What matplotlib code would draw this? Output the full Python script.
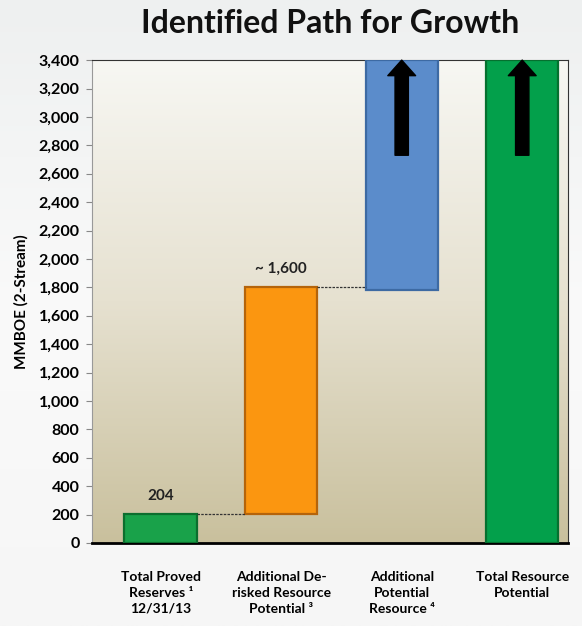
import matplotlib
matplotlib.use("Agg")
import matplotlib.pyplot as plt
import numpy as np
from matplotlib.colors import LinearSegmentedColormap

plt.rcParams['font.family'] = ['Lato', 'DejaVu Sans']
plt.rcParams['font.weight'] = 'bold'

# waterfall data (MMBOE)
categories = ["Total Proved\nReserves \u00b9\n12/31/13",
              "Additional De-\nrisked Resource\nPotential \u00b3",
              "Additional\nPotential\nResource \u2074",
              "Total Resource\nPotential"]
bar_bottoms = [0, 204, 1780, 0]
bar_tops = [204, 1800, 3400, 3400]
bar_labels = ["204", "~ 1,600", None, None]
bar_colors = ["#19a24a", "#fb9610", "#5b8ccb", "#03a04b"]
edge_colors = ["#0c6e2e", "#b5640a", "#3d6aa3", "#05702f"]
arrow_from = 2730
y_ticks = np.arange(0, 3401, 200)

fig = plt.figure(figsize=(5.82, 6.26), dpi=100)

# light page background gradient
bg = fig.add_axes([0, 0, 1, 1], zorder=-10)
bg.imshow(np.linspace(0, 1, 256).reshape(-1, 1), aspect='auto',
          cmap=LinearSegmentedColormap.from_list("pg", ["#eef0f0", "#fafafa", "#f6f6f6"]),
          extent=[0, 1, 0, 1])
bg.axis('off')

ax = fig.add_axes([0.158, 0.1326, 0.818, 0.7714])
xlim = (-0.57, 3.38)
ylim = (0, 3400)

# plot-area gradient: pale at top, tan at bottom
grad = np.linspace(0, 1, 256).reshape(-1, 1)
cmap = LinearSegmentedColormap.from_list("tan", ["#f7f7f3", "#e6e1d0", "#c9c09d"])
ax.imshow(grad, aspect='auto', cmap=cmap, extent=[xlim[0], xlim[1], ylim[0], ylim[1]],
          origin='upper', zorder=0)

x = np.arange(len(categories))
width = 0.6
heights = [t - b for t, b in zip(bar_tops, bar_bottoms)]
ax.bar(x, heights, width=width, bottom=bar_bottoms, color=bar_colors,
       edgecolor=edge_colors, linewidth=1.6, zorder=3)

# value labels
for xi, top, lab in zip(x, bar_tops, bar_labels):
    if lab:
        ax.text(xi, top + 80, lab, ha='center', va='bottom', fontsize=11,
                fontweight='bold', color='#222222', zorder=5)

# dashed connectors between consecutive bars
for i in range(2):
    ax.plot([x[i] + width / 2, x[i + 1] - width / 2], [bar_tops[i], bar_tops[i]],
            ls=(0, (2, 1)), color='#333333', lw=0.9, zorder=4)

# upward arrows on the open-ended bars
for xi in x[2:]:
    ax.annotate("", xy=(xi, 3400), xytext=(xi, arrow_from),
                arrowprops=dict(arrowstyle="simple,head_length=0.7,head_width=1.25,tail_width=0.6",
                                color='black', shrinkA=0, shrinkB=0, mutation_scale=16),
                zorder=6)

ax.set_xlim(*xlim)
ax.set_ylim(*ylim)
ax.set_yticks(y_ticks)
ax.set_yticklabels([f"{v:,}" for v in y_ticks], fontsize=11.5, fontweight='bold')
ax.tick_params(axis='y', length=4, color='#888888', pad=5)
ax.set_xticks(x)
ax.set_xticklabels(categories, fontsize=10, fontweight='bold', linespacing=1.4)
ax.tick_params(axis='x', length=0, pad=20)

ax.spines['left'].set_color('#999999')
ax.spines['top'].set_color('#333333')
ax.spines['right'].set_color('#333333')
ax.spines['bottom'].set_color('black')
ax.spines['bottom'].set_linewidth(2)

ax.set_ylabel("MMBOE (2-Stream)", fontsize=11, fontweight='bold', labelpad=7)
fig.text(0.567, 0.963, "Identified Path for Growth", ha='center', va='center',
         fontsize=23, fontweight='bold', color='#111111')

fig.savefig("out.png", dpi=100)
